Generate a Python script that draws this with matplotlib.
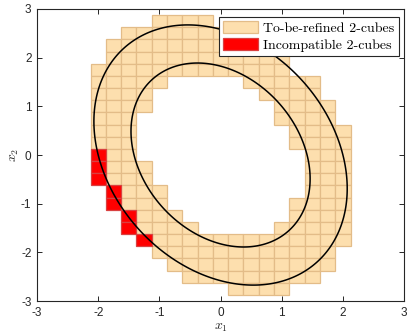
import numpy as np
import matplotlib
matplotlib.use("Agg")
import matplotlib.pyplot as plt
from matplotlib.patches import Rectangle, Patch

plt.rcParams['mathtext.fontset'] = 'cm'
plt.rcParams['axes.unicode_minus'] = False

# grid of 2-cubes: left edge of column 0, top edge of row 0, cell size
x_left = -2.125
y_top = 2.875
cell = 0.25

# to-be-refined cubes per row (row 0 at top): inclusive column ranges
refine_rows = {
    0: [(4, 7)],
    1: [(2, 10)],
    2: [(1, 11)],
    3: [(1, 12)],
    4: [(0, 12)],
    5: [(0, 4), (10, 14)],
    6: [(0, 3), (11, 14)],
    7: [(0, 3), (12, 15)],
    8: [(0, 2), (12, 15)],
    9: [(0, 2), (13, 16)],
    10: [(0, 2), (13, 16)],
    11: [(1, 2), (14, 16)],
    12: [(1, 3), (14, 16)],
    13: [(1, 3), (14, 16)],
    14: [(2, 4), (14, 16)],
    15: [(2, 4), (13, 16)],
    16: [(3, 5), (13, 16)],
    17: [(3, 6), (12, 16)],
    18: [(4, 16)],
    19: [(4, 15)],
    20: [(5, 15)],
    21: [(6, 14)],
    22: [(9, 12)],
}

# incompatible cubes (row, col)
incompatible = [(11, 0), (12, 0), (13, 0), (14, 1), (15, 1), (16, 2), (17, 2), (18, 3)]

# quadratic form V(x) = x' P x and the two level sets drawn
P = np.array([[0.5, 0.1], [0.1, 0.3]])
levels = [1, 2]

tan_face = '#FDDFAE'
tan_edge = '#E3BC88'
red_face = '#FF0000'
red_edge = '#D94040'

fig = plt.figure(figsize=(4.09, 3.33), dpi=100)
ax = fig.add_axes([0.0905, 0.096, 0.8975, 0.877])


def cube(row, col, face, edge):
    x = x_left + col * cell
    y = y_top - (row + 1) * cell
    return Rectangle((x, y), cell, cell, facecolor=face, edgecolor=edge, linewidth=0.9)


for row, segs in refine_rows.items():
    for c0, c1 in segs:
        for col in range(c0, c1 + 1):
            ax.add_patch(cube(row, col, tan_face, tan_edge))

for row, col in incompatible:
    ax.add_patch(cube(row, col, red_face, red_edge))

xs = np.linspace(-3, 3, 800)
X, Y = np.meshgrid(xs, xs)
V = P[0, 0] * X**2 + 2 * P[0, 1] * X * Y + P[1, 1] * Y**2
ax.contour(X, Y, V, levels=levels, colors='k', linewidths=1.1)

ax.set_xlim(-3, 3)
ax.set_ylim(-3, 3)
ax.set_xticks(range(-3, 4))
ax.set_yticks(range(-3, 4))
ax.tick_params(direction='in', top=True, right=True, length=3.5, width=0.7,
               colors='#262626', labelsize=8.5, pad=4)
for lab in ax.get_xticklabels() + ax.get_yticklabels():
    lab.set_family('Liberation Sans')
for sp in ax.spines.values():
    sp.set_color('#262626')
    sp.set_linewidth(0.8)

ax.set_xlabel('$x_1$', fontsize=10, color='#262626', labelpad=1)
ax.set_ylabel('$x_2$', fontsize=10, color='#262626', labelpad=0)

handles = [Patch(facecolor=tan_face, edgecolor=tan_edge, linewidth=0.9),
           Patch(facecolor=red_face, edgecolor=red_edge, linewidth=0.9)]
leg = ax.legend(handles, ['To-be-refined 2-cubes', 'Incompatible 2-cubes'],
                loc='upper right', bbox_to_anchor=(0.985, 0.972),
                prop={'family': 'cmr10', 'size': 10},
                frameon=True, fancybox=False, framealpha=1, edgecolor='#262626',
                handlelength=2.5, handleheight=0.9, handletextpad=0.4,
                borderpad=0.3, labelspacing=0.25, borderaxespad=0)
leg.get_frame().set_linewidth(0.8)

fig.savefig('out.png', dpi=100)
